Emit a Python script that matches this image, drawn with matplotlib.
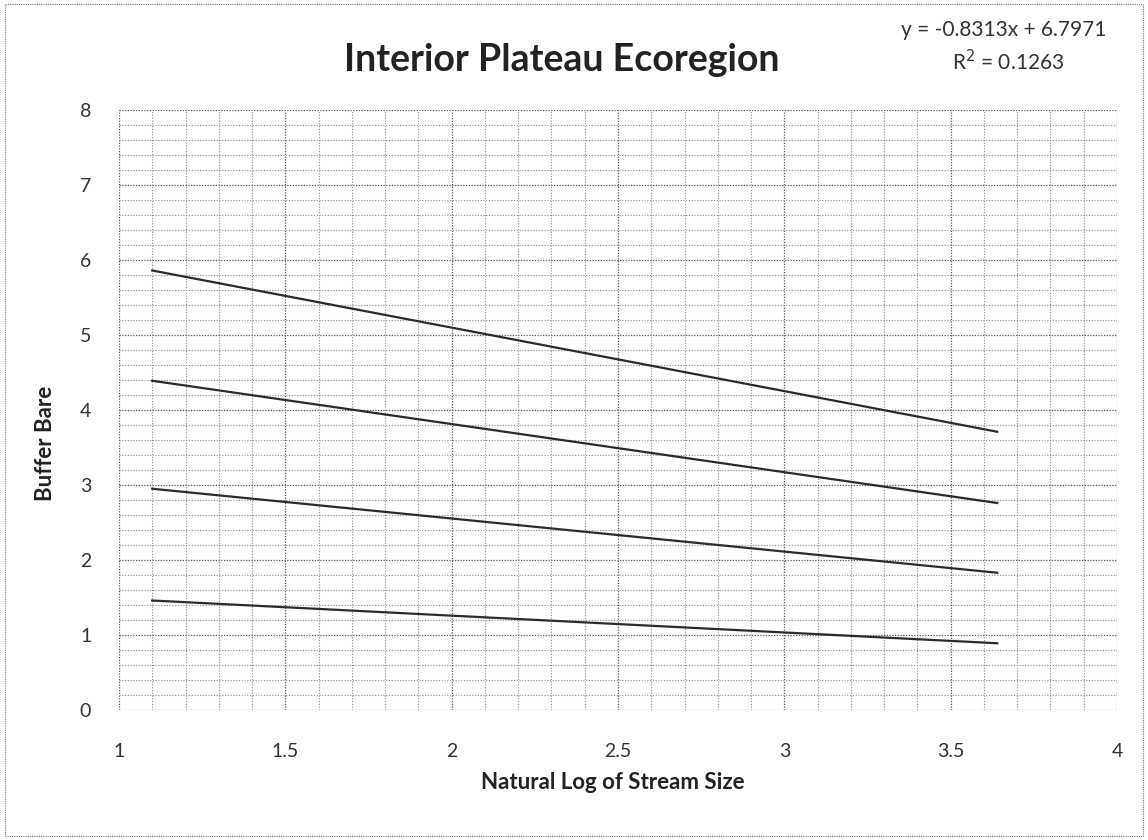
import matplotlib
matplotlib.use('Agg')
import matplotlib.pyplot as plt
import numpy as np
from matplotlib.patches import Rectangle

plt.rcParams['font.family'] = ['Lato', 'DejaVu Sans']

# trend lines: start / end x and the y at each end
x_ends = [1.10, 3.64]
line_starts = [5.86, 4.39, 2.95, 1.46]
line_stops = [3.71, 2.76, 1.83, 0.89]

x_ticks = [1, 1.5, 2, 2.5, 3, 3.5, 4]
x_tick_labels = ['1', '1.5', '2', '2.5', '3', '3.5', '4']
y_ticks = [0, 1, 2, 3, 4, 5, 6, 7, 8]

equation_text = 'y = -0.8313x + 6.7971'
r2_text = 'R$^2$ = 0.1263'

fig = plt.figure(figsize=(11.48, 8.4), dpi=100)
ax = fig.add_axes([119 / 1148, 1 - 710 / 840, (1117 - 119) / 1148, (710 - 110) / 840])

# dense dotted grid like the scanned Excel chart
ax.set_xticks(np.arange(1.0, 4.0001, 0.1), minor=True)
ax.set_yticks(np.arange(0.0, 8.0001, 0.2), minor=True)
ax.grid(which='minor', color='#8c8c8c', linestyle=(0, (1, 1.5)), linewidth=0.8)
ax.grid(which='major', color='#555555', linestyle=(0, (1, 1.2)), linewidth=0.9)

for y0, y1 in zip(line_starts, line_stops):
    ax.plot(x_ends, [y0, y1], color='#2b2b2b', linewidth=1.6, zorder=3)

ax.set_xlim(1, 4)
ax.set_ylim(0, 8)
ax.set_xticks(x_ticks)
ax.set_xticklabels(x_tick_labels)
ax.set_yticks(y_ticks)
ax.tick_params(which='both', length=0, labelsize=14, colors='#333333')
ax.tick_params(axis='x', pad=24)
ax.tick_params(axis='y', pad=20)
for s in ax.spines.values():
    s.set_visible(False)

ax.set_xlabel('Natural Log of Stream Size', fontsize=16, fontweight='bold',
              color='#222222')
ax.xaxis.set_label_coords(0.495, -0.103)
ax.set_ylabel('Buffer Bare', fontsize=16, fontweight='bold', color='#222222')
ax.yaxis.set_label_coords(-0.063, 0.445)

fig.text(562 / 1148, 1 - 60 / 840, 'Interior Plateau Ecoregion', ha='center',
         va='center', fontsize=27, fontweight='bold', color='#222222')
fig.text(1004 / 1148, 1 - 30 / 840, equation_text, ha='center', va='center',
         fontsize=15, color='#333333')
fig.text(1008 / 1148, 1 - 62 / 840, r2_text, ha='center', va='center',
         fontsize=15, color='#333333')

fig.patches.append(Rectangle((5 / 1148, 0.005), 1 - 10 / 1148, 0.99,
                             transform=fig.transFigure, fill=False,
                             edgecolor='#777777', linestyle=(0, (1, 1)),
                             linewidth=0.8))

fig.savefig('out.png', dpi=100)
